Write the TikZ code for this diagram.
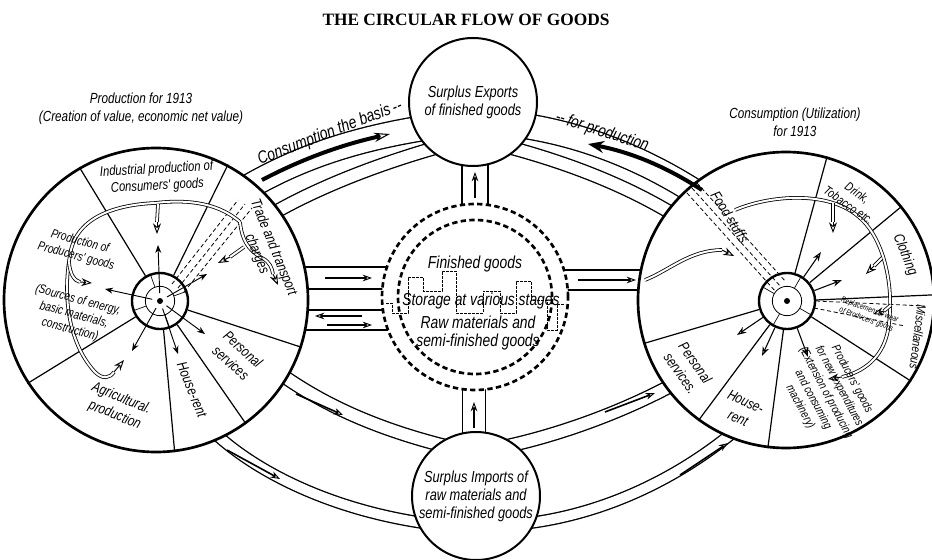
\documentclass[tikz,border=0pt]{standalone}
\usepackage{fontspec}
\newfontfamily\handfont[FakeStretch=0.8]{Liberation Sans Italic}
\newfontfamily\titlefont{Liberation Serif}
\usetikzlibrary{arrows.meta,calc}
\pgfdeclarelayer{back}
\pgfsetlayers{back,main}

\begin{document}
\begin{tikzpicture}[x=0.75pt, y=-0.75pt,
	wheel/.style={circle, draw, line width=2pt, fill=white, inner sep=0pt, minimum size=228pt},
	hub/.style={circle, draw, line width=1.8pt, fill=white, inner sep=0pt, minimum size=42pt},
	hubin/.style={circle, draw, line width=0.6pt, inner sep=0pt, minimum size=22pt},
	pool/.style={circle, draw, line width=1.5pt, fill=white, inner sep=0pt, minimum size=96pt, align=center, font=\handfont\fontsize{12}{13.5}\selectfont},
	store/.style={circle, draw, fill=white, line width=2pt, dash pattern=on 4pt off 2.5pt, inner sep=0pt, minimum size=139.5pt},
	lbl/.style={align=center, inner sep=0pt, font=\handfont\fontsize{11}{13.5}\selectfont},
	midlbl/.style={lbl, font=\handfont\fontsize{9.5}{11.5}\selectfont},
	tinylbl/.style={lbl, font=\handfont\fontsize{6}{7.5}\selectfont},
	biglbl/.style={lbl, font=\handfont\fontsize{13}{15}\selectfont},
	chan/.style={double, line width=1pt},
	sector/.style={line width=0.9pt},
	spoke/.style={-{Stealth[length=6pt,width=4.5pt]}, line width=0.7pt, shorten <=6pt},
	fletch/.style={-{Stealth[open,length=7pt,width=5pt]}, line width=0.8pt},
	trail/.style={dash pattern=on 3pt off 2pt, line width=0.6pt},
	tube/.style={double, double distance=1.5pt, line width=0.6pt},
	hollow/.style={-{Stealth[open,length=8pt,width=6pt]}, line width=0.7pt},
	flow/.style={line width=1.2pt, -{Stealth[open,length=7pt,width=5pt,line width=0.7pt]}},
	bigflow/.style={line width=3pt},
	skyline/.style={dash pattern=on 2pt off 1pt, line width=0.6pt}]
	\useasboundingbox (0,0) rectangle (932,560);

	\node[wheel]                       (LW)      at (156,300) {};
	\node[wheel, minimum size=222pt]   (RW)      at (786,300) {};
	\node[pool]                        (EXP)     at (473,102) {Surplus Exports\\of finished goods};
	\node[pool]                        (IMP)     at (476,496) {Surplus Imports of\\raw materials and\\semi-finished goods};
	\node[store]                       (STORE)   at (475,297) {};
	\node[store, minimum size=115.5pt] (STOREIN) at (475,297) {};
	\node[hub]                         (LH)      at (160,301) {};
	\node[hubin]                       (LHI)     at (160,301) {};
	\node[hub]                         (RH)      at (787,301) {};
	\node[hubin]                       (RHI)     at (787,301) {};

	\begin{pgfonlayer}{back}
		\draw[chan, double distance=17.75pt] ($(LW)!0.82!(LW.54)$) .. controls (290,160) and (350,140) .. ($(EXP)!0.85!(EXP.208)$);
		\draw[chan, double distance=17.75pt] ($(EXP)!0.82!(EXP.-26)$) .. controls (585,135) and (650,160) .. ($(RW)!0.8!(RW.127)$);
		\draw[chan, double distance=8.75pt] ($(LW)!0.88!(LW.37)$) .. controls (320,185) and (390,160) .. ($(EXP)!0.75!(EXP.240)$);
		\draw[chan, double distance=8.75pt] ($(EXP)!0.75!(EXP.-60)$) .. controls (560,160) and (630,185) .. ($(RW)!0.82!(RW.142)$);
		\draw[chan, double distance=7.25pt] ($(LW)!0.88!(LW.-68.6)$) .. controls (250,470) and (330,510) .. ($(IMP)!0.85!(IMP.210)$);
		\draw[chan, double distance=7.25pt] ($(IMP)!0.85!(IMP.-30)$) .. controls (600,515) and (680,480) .. ($(RW)!0.85!(RW.-108)$);
		\draw[chan, double distance=8.75pt] ($(LW)!0.84!(LW.-30.8)$) .. controls (320,405) and (380,430) .. ($(IMP)!0.85!(IMP.118)$);
		\draw[chan, double distance=8.75pt] ($(IMP)!0.85!(IMP.62)$) .. controls (560,435) and (630,410) .. ($(RW)!0.82!(RW.-142)$);
		\draw[chan, double distance=15.5pt] ($(LW.east)+(-15,-22)$) -- ($(STORE.west)+(15,-19)$);
		\draw[chan, double distance=14pt]   ($(LW.east)+(-15,20)$) -- ($(STORE.west)+(15,23)$);
		\draw[chan, double distance=14pt]   ($(STORE.east)+(-15,-17)$) -- ($(RW.west)+(15,-20)$);
		\draw[chan, double distance=18.6pt] ($(EXP.south)+(2,-15)$) -- ($(STORE.north)+(0,15)$);
		\draw[chan, double distance=16.3pt] ($(STORE.south)+(-1,-15)$) -- ($(IMP.north)+(-2,15)$);
	\end{pgfonlayer}

	\foreach \a in {120,62,-18,-54,-83,213}
		\draw[sector] (LH.\a) -- (LW.\a);
	\foreach \a in {74,39.5,2,-33,-97,-126,-163}
		\draw[sector] (RH.\a) -- (RW.\a);
	\foreach \a in {20,110,200,290}
		\draw[line width=0.5pt] (LHI.\a) -- (LH.\a);
	\foreach \a in {60,150,240,330}
		\draw[line width=0.5pt] (RHI.\a) -- (RH.\a);
	\fill (LH) circle (3);
	\fill (RH) circle (3);

	\foreach \p in {(158,245),(105,289),(132,351),(178,354),(205,334),(207,274)}
		\draw[spoke] (LH.center) -- \p;
	\foreach \p in {(821,252),(842,280),(808,357),(762,356),(737,335)}
		\draw[fletch] (RH) -- \p;

	\draw[trail] (172,284) -- (238,200);
	\draw[trail] (178,288) -- (245,204);
	\draw[trail] (184,292) -- (252,208);
	\draw[trail] (687,193) -- (776,292);
	\draw[trail] (692,188) -- (781,287);
	\draw[trail] (697,183) -- (786,282);
	\draw[trail] (816,301) -- (925,306);
	\draw[trail] (814,308) -- (905,326);

	\draw[tube] (240,222) .. controls (215,200) and (180,200) .. (155,203) .. controls (110,205) and (75,220) .. (70,255) .. controls (62,300) and (70,345) .. (95,372) .. controls (103,380) and (110,378) .. (114,372);
	\draw[hollow] (114,372) -- (124,360);
	\draw[tube] (158,204) -- (157,222);
	\draw[hollow] (157,222) -- (157,234);
	\draw[tube] (69,262) .. controls (70,275) and (75,281) .. (80,282);
	\draw[hollow] (80,282) -- (92,283);
	\draw[tube] (240,222) .. controls (242,240) and (248,250) .. (262,258) .. controls (270,262) and (272,268) .. (273,274);
	\draw[hollow] (273,274) -- (278,285);
	\draw[tube] (244,247) -- (230,257);
	\draw[hollow] (230,257) -- (218,263);

	\draw[tube] (645,280) .. controls (670,270) and (690,250) .. (722,250);
	\draw[hollow] (722,250) -- (734,256);
	\draw[tube] (735,210) .. controls (770,195) and (830,190) .. (860,218) .. controls (885,240) and (895,290) .. (888,330) .. controls (884,352) and (870,370) .. (842,377);
	\draw[hollow] (842,377) -- (828,379);
	\draw[tube] (833,203) -- (833,222);
	\draw[hollow] (833,222) -- (833,233);
	\draw[tube] (882,258) -- (874,266);
	\draw[hollow] (874,266) -- (866,274);
	\draw[tube] (891,305) -- (884,311);
	\draw[hollow] (884,311) -- (873,314);

	\draw[bigflow, -{Stealth[open,length=12pt,width=7pt,line width=0.8pt]}] (262,180) .. controls (300,160) and (340,145) .. (390,134);
	\draw[bigflow, -{Stealth[length=12pt,width=9pt]}] (702,190) .. controls (665,166) and (630,152) .. (588,144);
	\draw[flow] (296,394) -- (343,415);
	\draw[flow] (227,450) -- (280,479);
	\draw[flow] (605,412) -- (655,393);
	\draw[flow] (680,475) -- (728,443);
	\draw[flow] (325,278) -- (372,278);
	\draw[flow] (362,316) -- (315,316);
	\draw[flow] (327,325) -- (372,325);
	\draw[flow] (578,280) -- (636,280);
	\draw[flow] (475,198) -- (475,172);
	\draw[flow] (474,428) -- (474,402);

	\draw[skyline] (386,303) -- (392,303) -- (392,313) -- (408,313) -- (408,277) -- (423,277) -- (423,291) -- (442,291) -- (442,271) -- (456,271) -- (456,313) -- (483,313) -- (483,291) -- (500,291) -- (500,313) -- (516,313) -- (516,281) -- (531,281) -- (531,300) -- (547,300) -- (547,330) -- (557,330) -- (557,304) -- (565,304);

	\node[font=\titlefont\bfseries\fontsize{13}{13}\selectfont] (TITLE) at (466,20) {THE CIRCULAR FLOW OF GOODS};
	\node[lbl] (PRODLBL) at (141,109) {Production for 1913\\(Creation of value, economic net value)};
	\node[lbl] (CONSLBL) at (795,122) {Consumption (Utilization)\\for 1913};
	\node[biglbl, rotate=21]  (BASIS)   at (330,133) {Consumption the basis\,--};
	\node[biglbl, rotate=-18] (FORPROD) at (602,132) {--\,for production};

	\node[biglbl] (FIN) at (475,264) {Finished goods};
	\node[biglbl] (STG) at (481,301) {Storage at various stages};
	\node[biglbl, font=\handfont\fontsize{13}{14}\selectfont] (RAW) at (478,333) {Raw materials and\\semi-finished goods};

	\node[lbl, font=\handfont\fontsize{10.5}{12.5}\selectfont, rotate=3] (INDL) at (157,178) {Industrial production of\\Consumers' goods};
	\node[lbl, rotate=-68]  (TRADE) at (265,251) {Trade and transport\\charges};
	\node[midlbl, rotate=-15] (PRODG) at (78,249)  {Production of\\Producers' goods};
	\node[midlbl, rotate=-15] (SRC)   at (74,315)  {(Sources of energy,\\basic materials,\\construction)};
	\node[lbl, rotate=-22]  (AGRI)  at (118,407) {Agricultural.\\production};
	\node[lbl, rotate=-68]  (HRL)   at (192,390) {House-rent};
	\node[lbl, rotate=-42]  (PSL)   at (237,356) {Personal\\services};

	\node[lbl, rotate=-58]    (FOOD)  at (730,217) {Food stuffs};
	\node[midlbl, rotate=-35] (DRINK) at (853,199) {Drink,\\Tobacco etc.};
	\node[lbl, rotate=-68]    (CLOTH) at (905,255) {Clothing};
	\node[midlbl, rotate=-97] (MISC)  at (918,337) {Miscellaneous};
	\node[tinylbl, rotate=-20] (REPL) at (868,315) {Replacement of wear\\of Producers' goods};
	\node[midlbl, font=\handfont\fontsize{9}{11}\selectfont, rotate=-62] (NEWPG) at (826,393) {Producers' goods\\for new expenditures\\(Extension of producing\\and consuming\\machinery)};
	\node[lbl, rotate=-55]    (PSR)   at (688,368) {Personal\\services.};
	\node[lbl, rotate=-25]    (HRR)   at (742,410) {House-\\rent};
\end{tikzpicture}
\end{document}
